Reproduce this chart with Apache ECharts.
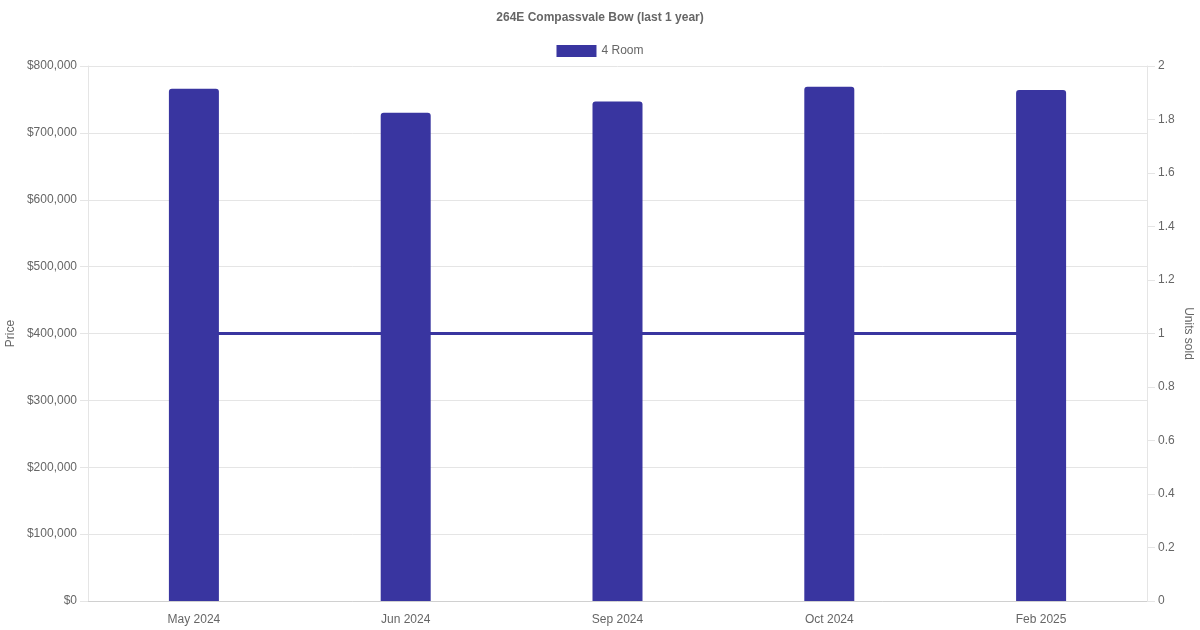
<!DOCTYPE html>
<html>
<head>
<meta charset="utf-8">
<script src="https://cdn.jsdelivr.net/npm/echarts@6/dist/echarts.min.js"></script>
<style>html,body{margin:0;padding:0;background:#fff}#c{width:1200px;height:630px}</style>
</head>
<body>
<div id="c"></div>
<script>
const categories = ['May 2024', 'Jun 2024', 'Sep 2024', 'Oct 2024', 'Feb 2025'];
const prices = [766000, 730000, 747000, 769000, 764000];
const unitsSold = [1, 1, 1, 1, 1];
const seriesName = '4 Room';
const titleText = '264E Compassvale Bow (last 1 year)';

const color = '#3935A0';
const font = 'Liberation Sans, Arial, Helvetica, sans-serif';
const chart = echarts.init(document.getElementById('c'));
chart.setOption({
  animation: false,
  textStyle: { fontFamily: font },
  title: {
    text: titleText, left: 'center', top: 7,
    textStyle: { fontSize: 12, fontWeight: 'bold', color: '#666', fontFamily: font }
  },
  legend: {
    data: [seriesName], top: 40, left: 'center',
    itemWidth: 40, itemHeight: 12, itemGap: 10, icon: 'rect',
    textStyle: { fontSize: 12, color: '#666', fontFamily: font }
  },
  grid: { left: 88, right: 53, top: 66, bottom: 29, containLabel: false, outerBoundsMode: 'none' },
  xAxis: {
    type: 'category', data: categories,
    axisLine: { lineStyle: { color: '#d0d0d0' } },
    axisTick: { show: false },
    axisLabel: { color: '#666', fontSize: 12, margin: 13, fontFamily: font },
    splitLine: { show: false }
  },
  yAxis: [
    {
      type: 'value', min: 0, max: 800000, interval: 100000,
      name: 'Price', nameLocation: 'middle', nameGap: 71, nameRotate: 90, nameMoveOverlap: false,
      nameTextStyle: { color: '#666', fontSize: 12, fontFamily: font },
      axisLine: { show: true, lineStyle: { color: '#e5e5e5' } },
      axisTick: { show: true, length: 8, lineStyle: { color: '#e5e5e5' } },
      axisLabel: { color: '#666', fontSize: 12, margin: 11, fontFamily: font,
        formatter: v => '$' + v.toLocaleString('en-US') },
      splitLine: { lineStyle: { color: '#e5e5e5' } }
    },
    {
      type: 'value', min: 0, max: 2, interval: 0.2, position: 'right',
      name: 'Units sold', nameLocation: 'middle', nameGap: 35, nameRotate: -90, nameMoveOverlap: false,
      nameTextStyle: { color: '#666', fontSize: 12, fontFamily: font },
      axisLine: { show: true, lineStyle: { color: '#e5e5e5' } },
      axisTick: { show: true, length: 8, lineStyle: { color: '#e5e5e5' } },
      axisLabel: { color: '#666', fontSize: 12, margin: 11, fontFamily: font,
        formatter: v => String(Math.round(v * 10) / 10) },
      splitLine: { show: false }
    }
  ],
  series: [
    {
      name: seriesName, type: 'bar', data: prices, yAxisIndex: 0,
      barWidth: 50, z: 3,
      itemStyle: { color: color, borderRadius: [3, 3, 0, 0] }
    },
    {
      name: 'Units sold', type: 'line', data: unitsSold, yAxisIndex: 1,
      symbol: 'none', z: 2,
      lineStyle: { color: color, width: 3 }, itemStyle: { color: color }
    }
  ]
});
</script>
</body>
</html>
